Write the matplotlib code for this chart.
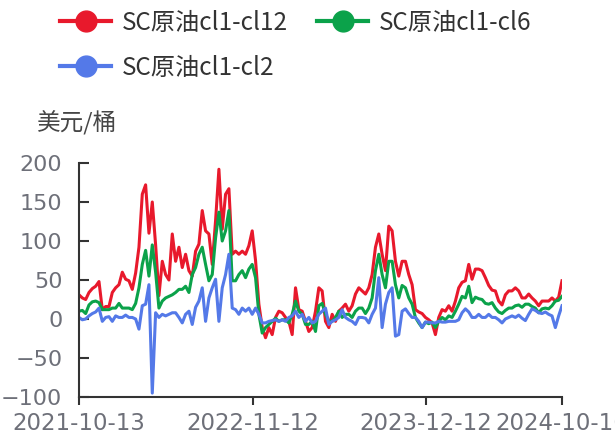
import pandas as pd
import matplotlib
matplotlib.use('Agg')
import matplotlib.pyplot as plt
from matplotlib.lines import Line2D

plt.rcParams['font.family'] = ['Noto Sans CJK SC', 'DejaVu Sans']

start_date = '2021-10-13'
end_date = '2024-10-16'
tick_dates = ['2021-10-13', '2022-11-12', '2023-12-12', '2024-10-16']

# spread values, USD/bbl
cl1_cl12 = [
    31, 27, 25, 34, 39, 42, 48, 12, 16, 16,
    34, 40, 44, 60, 51, 49, 38, 59, 92, 160,
    172, 110, 150, 95, 30, 74, 57, 50, 109, 74,
    92, 66, 83, 62, 55, 87, 96, 139, 113, 109,
    70, 126, 192, 115, 160, 167, 83, 87, 83, 87,
    83, 94, 113, 75, 19, -11, -24, -11, -20, 2,
    10, 8, 2, -3, -20, 40, 12, 10, -3, -16,
    -11, 10, 40, 36, -3, -11, 6, -3, 10, 14,
    19, 10, 17, 32, 40, 36, 32, 40, 57, 92,
    109, 83, 62, 119, 113, 74, 55, 74, 74, 57,
    44, 12, 9, 7, 2, -1, -5, -20, 2, 12,
    10, 17, 10, 23, 40, 47, 49, 70, 51, 64,
    64, 62, 53, 43, 37, 36, 23, 18, 31, 36,
    36, 40, 36, 27, 27, 32, 27, 23, 17, 23,
    23, 23, 27, 23, 28, 49,
]
cl1_cl6 = [
    10, 11, 7, 18, 22, 23, 21, 12, 12, 12,
    14, 14, 20, 14, 14, 14, 12, 20, 40, 70,
    88, 55, 95, 60, 14, 23, 27, 29, 31, 34,
    38, 38, 42, 34, 57, 66, 83, 92, 70, 49,
    57, 104, 137, 100, 113, 139, 49, 49, 57, 62,
    53, 64, 70, 53, 6, -18, -11, -7, -3, 1,
    -3, -1, -1, -5, 6, 23, 10, 6, -7, -7,
    -3, -16, 17, 20, 6, -3, -3, 2, 10, 2,
    6, 6, 2, 10, 14, 14, 7, 14, 27, 62,
    83, 57, 40, 74, 74, 44, 27, 43, 40, 27,
    19, 2, -5, -11, -4, -6, -4, -11, -3, 2,
    -1, 4, 2, 10, 19, 29, 27, 42, 21, 28,
    26, 25, 20, 19, 21, 14, 9, 7, 11, 14,
    14, 17, 18, 15, 19, 19, 16, 14, 8, 13,
    14, 13, 17, 23, 24, 29,
]
cl1_cl2 = [
    2, -1, 0, 4, 7, 9, 14, -3, 2, 3,
    -3, 4, 2, 2, 5, 2, 2, 0, -13, 17,
    19, 44, -95, 8, 2, 6, 4, 6, 8, 8,
    2, -5, 6, 10, -7, 15, 23, 40, -3, 27,
    40, 51, -3, 40, 57, 83, 14, 12, 6, 14,
    10, 14, 6, 14, 6, -5, -5, -3, -2, -1,
    -3, -1, -3, 2, 4, 10, 2, 6, -3, 2,
    -5, -3, 6, 10, 14, -7, -3, -1, 2, 12,
    2, -1, -3, -7, 2, 2, 1, -5, 6, 14,
    53, -11, 19, 34, 40, -22, -20, 10, 13, 7,
    2, 2, -3, -11, -4, -4, -5, -5, -3, -4,
    -4, -3, -3, -3, -1, 8, 13, 9, 2, 2,
    6, 2, 2, 6, 2, 2, -1, -5, 0, 2,
    4, 2, 5, 1, -2, 6, 13, 11, 8, 7,
    9, 6, 4, -11, 4, 17,
]

dates = pd.date_range(start_date, end_date, periods=len(cl1_cl12))

red = '#E8192C'
green = '#0BA24A'
blue = '#5479E8'

fig = plt.figure(figsize=(6.15, 4.37), dpi=100)
ax = fig.add_axes([79 / 615, 1 - 397 / 437, (562 - 79) / 615, (397 - 163) / 437])

ax.plot(dates, cl1_cl12, color=red, lw=2.2)
ax.plot(dates, cl1_cl6, color=green, lw=2.2)
ax.plot(dates, cl1_cl2, color=blue, lw=2.2)

ax.set_ylim(-100, 200)
ax.set_yticks([-100, -50, 0, 50, 100, 150, 200])
ax.set_xlim(pd.Timestamp(start_date), pd.Timestamp(end_date))
ax.set_xticks(pd.to_datetime(tick_dates))
ax.set_xticklabels(tick_dates)

for s in ['top', 'right']:
    ax.spines[s].set_visible(False)
for s in ['left', 'bottom']:
    ax.spines[s].set_color('#333333')
    ax.spines[s].set_linewidth(1.5)

ax.tick_params(axis='y', direction='in', length=7, width=1.5, color='#333333',
               labelsize=16, labelcolor='#6E7079', pad=12)
ax.tick_params(axis='x', direction='out', length=6, width=1.5, color='#333333',
               labelsize=16.5, labelcolor='#6E7079', pad=5)
for lab in ax.get_xticklabels() + ax.get_yticklabels():
    lab.set_family('DejaVu Sans')

fig.text(37 / 615, 1 - 123 / 437, '美元/桶', fontsize=17, color='#464646', va='center', ha='left')

handles = [
    Line2D([], [], color=red, lw=3, marker='o', markersize=15),
    Line2D([], [], color=blue, lw=3, marker='o', markersize=15),
    Line2D([], [], color=green, lw=3, marker='o', markersize=15),
]
labels = ['SC原油cl1-cl12', 'SC原油cl1-cl2', 'SC原油cl1-cl6']
fig.legend(handles, labels, loc='upper left', bbox_to_anchor=(60 / 615, 1 - 10 / 437),
           ncol=2, frameon=False, fontsize=17.5, labelcolor='#333333',
           handlelength=2.1, handletextpad=0.45, columnspacing=1.2,
           labelspacing=0.78, borderpad=0, borderaxespad=0)

fig.savefig('out.png', dpi=100)
